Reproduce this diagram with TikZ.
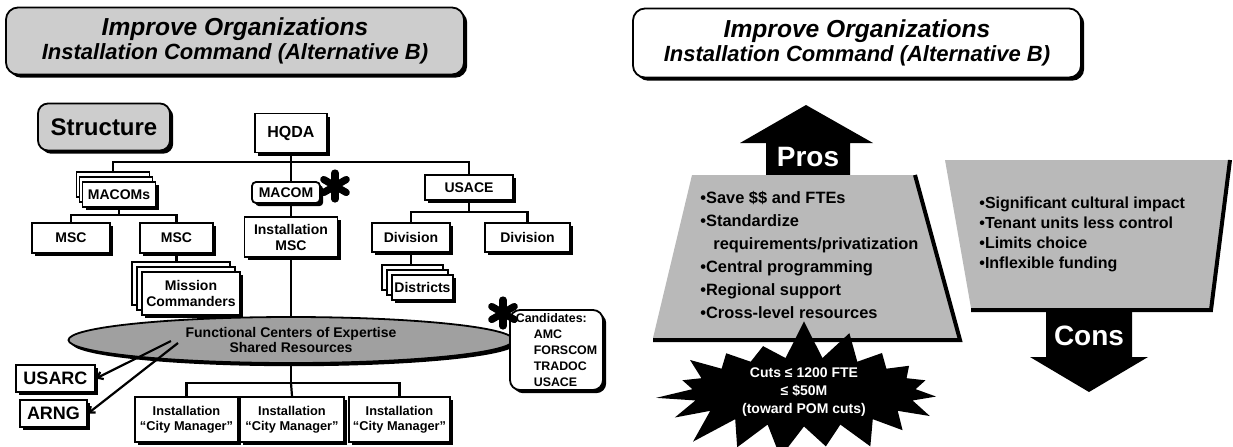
\documentclass[tikz,border=0pt]{standalone}
\usepackage{fontspec}
\setmainfont{Liberation Sans}
\usepackage{tikz}
\usepackage{xcolor}
\usetikzlibrary{calc,arrows.meta,shapes.geometric,shapes.symbols,shadows}
\definecolor{dotGray}{RGB}{205,205,205}
\definecolor{midGray}{RGB}{185,185,185}
\definecolor{darkDot}{RGB}{160,160,160}
\newcommand{\TitleBig}[1]{{\fontsize{12.3}{12}\selectfont\bfseries\itshape #1}}
\newcommand{\TitleSmall}[1]{{\fontsize{11}{12}\selectfont\bfseries\itshape #1}}
\newcommand{\BoldStar}[1]{\foreach \a in {90,30,150}{\draw[line width=3.6pt,line cap=round] (#1) ++(\a:-13) -- ++(\a:26);}}
\tikzset{
  shadowed/.style={drop shadow={shadow xshift=1.6pt,shadow yshift=-1.6pt,fill=black,opacity=1}},
  orgbox/.style={draw,fill=white,line width=0.9pt,inner sep=1pt,align=center,font=\fontsize{7}{8}\selectfont\bfseries,shadowed},
  stackbox/.style={draw,fill=white,line width=0.9pt},
  titlebox/.style={draw,rounded corners=6pt,line width=0.9pt,align=center,inner sep=2pt,font=\fontsize{11}{12}\selectfont,shadowed},
  conn/.style={line width=1.1pt},
  listtext/.style={align=left,inner sep=0pt,anchor=north west},
  arrowtext/.style={text=white,font=\fontsize{14}{15}\selectfont\bfseries,inner sep=0pt}
}
\begin{document}
\begin{tikzpicture}[x=0.5pt,y=-0.5pt]
\useasboundingbox (0,0) rectangle (1233,446);
\node[titlebox,fill=dotGray,minimum width=229pt,minimum height=33.5pt] (titleL) at (235,41) {\TitleBig{Improve Organizations}\\\TitleSmall{Installation Command (Alternative B)}};
\node[titlebox,fill=white,minimum width=224pt,minimum height=34.5pt] (titleR) at (857,43) {\TitleBig{Improve Organizations}\\\TitleSmall{Installation Command (Alternative B)}};

\node[draw,rounded corners=5pt,line width=0.9pt,fill=dotGray,shadowed,minimum width=66pt,minimum height=23.5pt,font=\fontsize{12}{13}\selectfont\bfseries] (structure) at (104,127) {Structure};
\node[orgbox,minimum width=36pt,minimum height=19.5pt,font=\fontsize{8}{9}\selectfont\bfseries] (hqda) at (291,133) {HQDA};

\node[stackbox,minimum width=36.5pt,minimum height=12.5pt] (macomsC) at (113,184.5) {};
\node[stackbox,minimum width=36.5pt,minimum height=12.5pt] (macomsB) at (116,189.5) {};
\node[orgbox,minimum width=36.5pt,minimum height=12.5pt] (macoms) at (119,194.5) {MACOMs};
\node[orgbox,rounded corners=2pt,minimum width=34pt,minimum height=10.5pt] (macom) at (286,192.5) {MACOM};
\BoldStar{335,186}
\node[orgbox,minimum width=44pt,minimum height=12.5pt] (usace) at (469,187.5) {USACE};

\node[orgbox,minimum width=39pt,minimum height=15pt] (msc1) at (71,238) {MSC};
\node[orgbox,minimum width=36.5pt,minimum height=15pt] (msc2) at (176.5,238) {MSC};
\node[orgbox,minimum width=46.5pt,minimum height=20pt] (instmsc) at (291,237) {Installation\\MSC};
\node[orgbox,minimum width=39pt,minimum height=14.5pt] (div1) at (411,237.5) {Division};
\node[orgbox,minimum width=42.5pt,minimum height=14.5pt] (div2) at (527.5,237.5) {Division};

\node[stackbox,minimum width=49pt,minimum height=21.5pt] (missionC) at (181,283.5) {};
\node[stackbox,minimum width=49pt,minimum height=21.5pt] (missionB) at (186,288.5) {};
\node[orgbox,minimum width=49pt,minimum height=21.5pt] (mission) at (191,293.5) {Mission\\Commanders};
\node[stackbox,minimum width=30.5pt,minimum height=12.5pt] (districtsC) at (412.5,277.5) {};
\node[stackbox,minimum width=30.5pt,minimum height=12.5pt] (districtsB) at (417.5,282.5) {};
\node[orgbox,minimum width=30.5pt,minimum height=12.5pt] (districts) at (422.5,287.5) {Districts};

\node[ellipse,draw,line width=0.9pt,fill=darkDot,shadowed,inner sep=0pt,minimum width=222.5pt,minimum height=23pt,align=center,font=\fontsize{7}{7.5}\selectfont\bfseries] (fce) at (291,340) {Functional Centers of Expertise\\Shared Resources};
\node[orgbox,rounded corners=5pt,minimum width=46.5pt,minimum height=40pt,align=left,font=\fontsize{6.2}{8}\selectfont\bfseries] (cand) at (556.5,350) {Candidates:\\\hspace*{9pt}AMC\\\hspace*{9pt}FORSCOM\\\hspace*{9pt}TRADOC\\\hspace*{9pt}USACE};
\BoldStar{503,313}

\node[orgbox,minimum width=51.5pt,minimum height=22.5pt,font=\fontsize{6.4}{7.6}\selectfont\bfseries] (cm1) at (186.5,419.5) {Installation\\“City Manager”};
\node[orgbox,minimum width=52pt,minimum height=22.5pt,font=\fontsize{6.4}{7.6}\selectfont\bfseries] (cm2) at (292,419.5) {Installation\\“City Manager”};
\node[orgbox,minimum width=50.5pt,minimum height=22.5pt,font=\fontsize{6.4}{7.6}\selectfont\bfseries] (cm3) at (399.5,419.5) {Installation\\“City Manager”};
\node[orgbox,minimum width=39.5pt,minimum height=13.5pt,font=\fontsize{9}{10}\selectfont\bfseries] (usarc) at (55.5,378.5) {USARC};
\node[orgbox,minimum width=33.5pt,minimum height=13.5pt,font=\fontsize{9}{10}\selectfont\bfseries] (arng) at (53.5,413.5) {ARNG};

\coordinate (topbar) at (291,162);
\coordinate (mscbar) at (119,215);
\coordinate (divbar) at (469,212);
\coordinate (cmbar) at (291,383);
\coordinate (usarcEnd) at (171,341);
\coordinate (arngEnd) at (178,343);
\draw[conn] (macomsC.north) |- (topbar) -| (usace.north);
\draw[conn] (hqda.south) -- (hqda.south |- macom.north);
\draw[conn] (hqda.south |- macom.south) -- (instmsc.north);
\draw[conn] (macoms.south) -- (mscbar);
\draw[conn] (msc1.north) |- (mscbar) -| (msc2.north);
\draw[conn] (msc2.south) -- (msc2.south |- missionC.north);
\draw[conn] (usace.south) -- (divbar);
\draw[conn] (div1.north) |- (divbar) -| (div2.north);
\draw[conn] (div1.south) -- (div1.south |- districtsC.north);
\draw[conn] (instmsc.south) -- (fce.north);
\draw[conn] (fce.south) -- (cmbar);
\draw[conn] (cm1.north) |- (cmbar) -| (cm3.north);
\draw[conn] (cmbar) -- (cm2.north);
\draw[conn,-{Straight Barb[length=2.5pt,width=4pt]}] (usarcEnd) -- (usarc.east);
\draw[conn,-{Straight Barb[length=2.5pt,width=4pt]}] (arngEnd) -- (arng.east);

\fill (766,180) -- (766,143) -- (740,143) -- (806,105) -- (873,143) -- (850,143) -- (850,180) -- cycle;
\node[arrowtext] (pros) at (808,157) {Pros};
\fill[midGray] (692,175) -- (915,175) -- (960,338) -- (653,338) -- cycle;
\draw[line width=2pt] (915,175) -- (960,340) -- (653,340);
\node[starburst,starburst points=19,starburst point height=20pt,random starburst=7,fill=black,text=white,minimum width=152pt,minimum height=74pt,align=center,inner sep=0pt,font=\fontsize{7}{9}\selectfont\bfseries] (cuts) at (804,392) {Cuts ≤ 1200 FTE\\≤ \$50M\\(toward POM cuts)};
\node[listtext,font=\fontsize{8.2}{11.5}\selectfont\bfseries] (prolist) at (700,191) {•Save \$\$ and FTEs\\•Standardize\\\hspace*{6.5pt}requirements/privatization\\•Central programming\\•Regional support\\•Cross-level resources};

\fill[midGray] (945,160) -- (1230,160) -- (1211,308) -- (971,308) -- cycle;
\draw[line width=2pt] (1230,160) -- (1211,310) -- (971,310);
\node[listtext,font=\fontsize{8}{10}\selectfont\bfseries] (conlist) at (979,196) {•Significant cultural impact\\•Tenant units less control\\•Limits choice\\•Inflexible funding};
\fill (1046,312) -- (1132,312) -- (1132,357) -- (1148,357) -- (1089,392) -- (1030,357) -- (1046,357) -- cycle;
\node[arrowtext] (cons) at (1089,336) {Cons};
\end{tikzpicture}
\end{document}
